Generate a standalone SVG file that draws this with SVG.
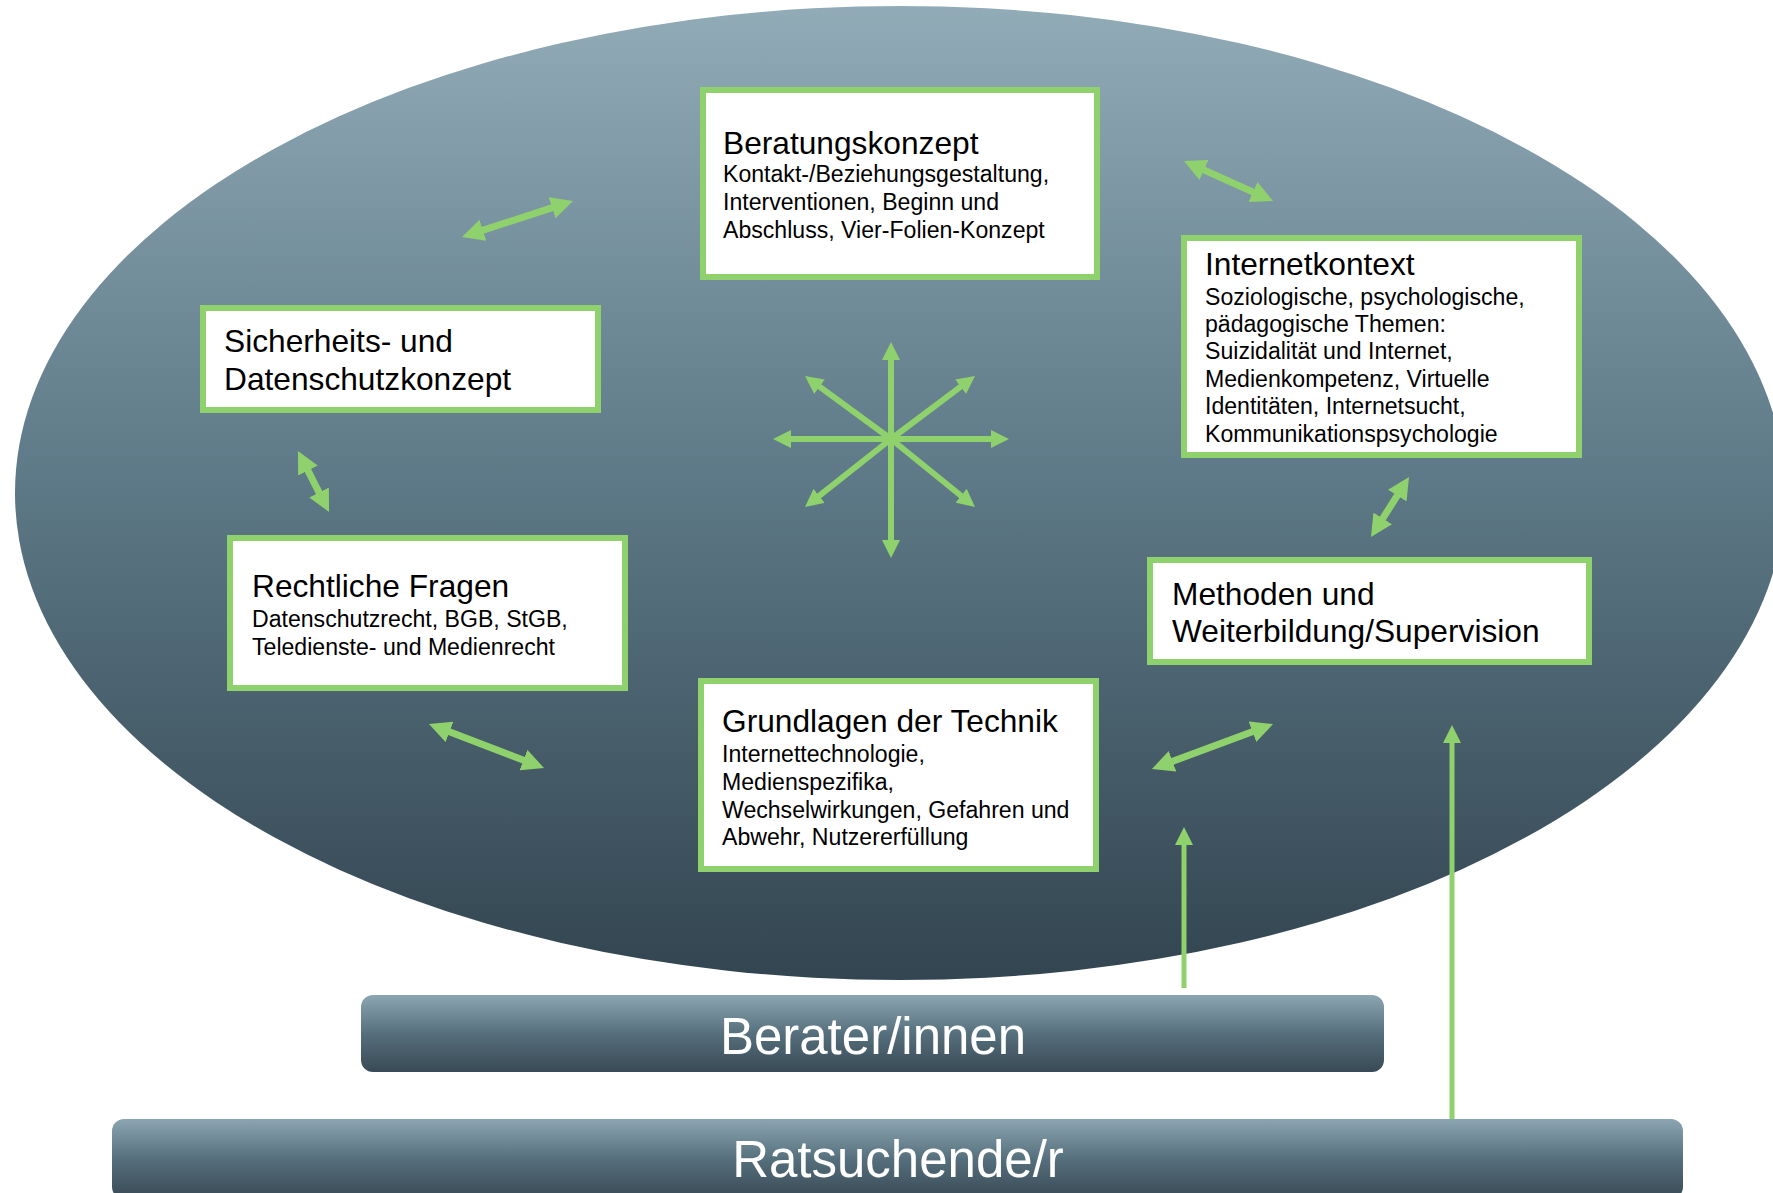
<svg xmlns="http://www.w3.org/2000/svg" width="1773" height="1193" viewBox="0 0 1773 1193">
<defs>
<linearGradient id="gEll" x1="0" y1="0" x2="0" y2="1">
<stop offset="0" stop-color="#91abb7"/>
<stop offset="0.5" stop-color="#5c7785"/>
<stop offset="1" stop-color="#324550"/>
</linearGradient>
<linearGradient id="gBar" x1="0" y1="0" x2="0" y2="1">
<stop offset="0" stop-color="#8ba6b2"/>
<stop offset="0.5" stop-color="#566f7c"/>
<stop offset="1" stop-color="#384a55"/>
</linearGradient>
<marker id="h1" markerUnits="userSpaceOnUse" markerWidth="18" markerHeight="18" refX="6" refY="9" orient="auto-start-reverse" viewBox="0 0 18 18">
<path d="M0,0 L18,9 L0,18 z" fill="#8fd16c"/>
</marker>
<marker id="h2" markerUnits="userSpaceOnUse" markerWidth="22" markerHeight="22" refX="10" refY="11" orient="auto-start-reverse" viewBox="0 0 22 22">
<path d="M0,0 L22,11 L0,22 z" fill="#8fd16c"/>
</marker>
</defs>
<style>
.box{fill:#ffffff;stroke:#8fd16c;stroke-width:6}
.t{font-family:"Liberation Sans",Arial,sans-serif;font-size:31.7px;fill:#000}
.s{font-family:"Liberation Sans",Arial,sans-serif;font-size:23.1px;fill:#000}
.bt{font-family:"Liberation Sans",Arial,sans-serif;font-size:51px;fill:#fff;text-anchor:middle}
.c1{stroke:#8fd16c;stroke-width:6;fill:none;marker-end:url(#h1)}
.c2{stroke:#8fd16c;stroke-width:7;fill:none;marker-start:url(#h2);marker-end:url(#h2)}
</style>
<rect width="1773" height="1193" fill="#ffffff"/>
<ellipse id="ellipse" cx="900" cy="493" rx="885" ry="487" fill="url(#gEll)"/>

<g id="bar-berater">
<rect x="361" y="995" width="1023" height="77" rx="12" fill="url(#gBar)"/>
<text class="bt" x="873" y="1054">Berater/innen</text>
</g>
<g id="bar-ratsuchende">
<rect x="112" y="1119" width="1571" height="80" rx="12" fill="url(#gBar)"/>
<text class="bt" x="898" y="1177">Ratsuchende/r</text>
</g>

<g id="n-beratung">
<rect class="box" x="703" y="90" width="394" height="187"/>
<text class="t" x="723" y="154">Beratungskonzept</text>
<text class="s" x="723" y="182">Kontakt-/Beziehungsgestaltung,</text>
<text class="s" x="723" y="210">Interventionen, Beginn und</text>
<text class="s" x="723" y="238">Abschluss, Vier-Folien-Konzept</text>
</g>
<g id="n-internet">
<rect class="box" x="1184" y="238" width="395" height="217"/>
<text class="t" x="1205" y="275">Internetkontext</text>
<text class="s" x="1205" y="305">Soziologische, psychologische,</text>
<text class="s" x="1205" y="332">pädagogische Themen:</text>
<text class="s" x="1205" y="359">Suizidalität und Internet,</text>
<text class="s" x="1205" y="387">Medienkompetenz, Virtuelle</text>
<text class="s" x="1205" y="414">Identitäten, Internetsucht,</text>
<text class="s" x="1205" y="442">Kommunikationspsychologie</text>
</g>
<g id="n-sicherheit">
<rect class="box" x="203" y="308" width="395" height="102"/>
<text class="t" x="224" y="352">Sicherheits- und</text>
<text class="t" x="224" y="390">Datenschutzkonzept</text>
</g>
<g id="n-recht">
<rect class="box" x="230" y="538" width="395" height="150"/>
<text class="t" x="252" y="597">Rechtliche Fragen</text>
<text class="s" x="252" y="627">Datenschutzrecht, BGB, StGB,</text>
<text class="s" x="252" y="655">Teledienste- und Medienrecht</text>
</g>
<g id="n-technik">
<rect class="box" x="701" y="681" width="395" height="188"/>
<text class="t" x="722" y="732">Grundlagen der Technik</text>
<text class="s" x="722" y="762">Internettechnologie,</text>
<text class="s" x="722" y="790">Medienspezifika,</text>
<text class="s" x="722" y="818">Wechselwirkungen, Gefahren und</text>
<text class="s" x="722" y="845">Abwehr, Nutzererfüllung</text>
</g>
<g id="n-methoden">
<rect class="box" x="1150" y="560" width="439" height="102"/>
<text class="t" x="1172" y="605">Methoden und</text>
<text class="t" x="1172" y="642">Weiterbildung/Supervision</text>
</g>

<g id="connectors">
<line class="c1" x1="891" y1="439" x2="891" y2="354"/>
<line class="c1" x1="891" y1="439" x2="891" y2="546"/>
<line class="c1" x1="891" y1="439" x2="785" y2="439"/>
<line class="c1" x1="891" y1="439" x2="997" y2="439"/>
<line class="c1" x1="891" y1="439" x2="814.7" y2="383.1"/>
<line class="c1" x1="891" y1="439" x2="965.4" y2="383.2"/>
<line class="c1" x1="891" y1="439" x2="814.4" y2="499.6"/>
<line class="c1" x1="891" y1="439" x2="965.7" y2="499.5"/>
<line class="c2" x1="473.4" y1="233.3" x2="561.6" y2="204.7"/>
<line class="c2" x1="1194.9" y1="165.9" x2="1262.1" y2="196.1"/>
<line class="c2" x1="303.4" y1="461.7" x2="323.6" y2="501.3"/>
<line class="c2" x1="1402.6" y1="487.1" x2="1377.4" y2="526.9"/>
<line class="c2" x1="440.2" y1="728.3" x2="532.8" y2="763.7"/>
<line class="c2" x1="1163.2" y1="764.8" x2="1261.8" y2="728.2"/>
<line class="c1" x1="1184" y1="988" x2="1184" y2="839" style="stroke-width:5"/>
<line class="c1" x1="1452" y1="1119" x2="1452" y2="737" style="stroke-width:5"/>
</g>
</svg>
